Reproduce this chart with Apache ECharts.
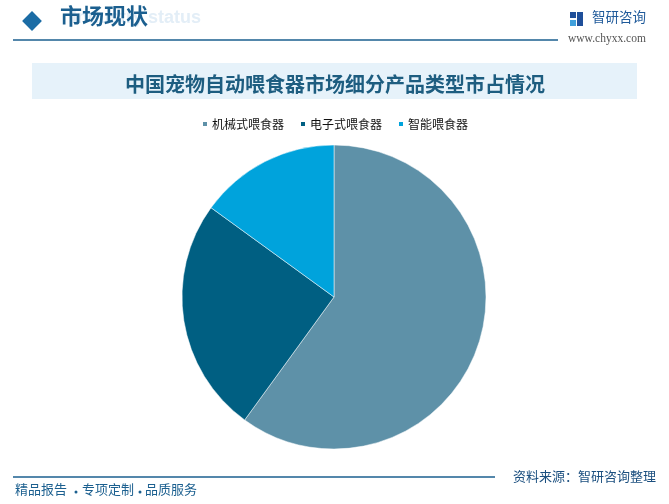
<!DOCTYPE html>
<html><head><meta charset="utf-8">
<script src="https://cdn.jsdelivr.net/npm/echarts@6/dist/echarts.min.js"></script>
<style>html,body{margin:0;padding:0;background:#fff}#c{width:669px;height:504px}</style>
</head><body><div id="c"></div>
<script>
const categories = ['机械式喂食器', '电子式喂食器', '智能喂食器'];
const shares = [60, 25, 15];
const colors = ['#5e91a8', '#005f82', '#00a3dc'];
const titleText = '中国宠物自动喂食器市场细分产品类型市占情况';
const footerParts = ['精品报告', '专项定制', '品质服务'];

const chart = echarts.init(document.getElementById('c'));
const font = '"Noto Sans CJK SC", sans-serif';
const footerX = [15, 82, 145];
const dotX = [76, 140];
const footerGraphics = [];
footerParts.forEach((t, i) => footerGraphics.push({ type: 'text', left: footerX[i], top: 483, style: { text: t, fontSize: 13, fill: '#1b5f8f', fontFamily: font } }));
dotX.forEach(x => footerGraphics.push({ type: 'circle', shape: { cx: x, cy: 492, r: 1.5 }, style: { fill: '#1b5f8f' } }));

chart.setOption({
  animation: false,
  color: colors,
  legend: {
    data: categories, top: 113, left: 'center', itemWidth: 6, itemHeight: 6, itemGap: 15,
    icon: 'rect', textStyle: { fontFamily: font, fontSize: 12, color: '#111', padding: [0, 0, 0, -1] }
  },
  graphic: [
    { type: 'text', left: 72, top: 9, style: { text: 'Industry status', fontSize: 18, fontWeight: 'bold', fill: '#e3eef7', fontFamily: 'Liberation Sans' } },
    { type: 'rect', shape: { x: -7, y: -7, width: 14, height: 14 }, x: 32, y: 21, rotation: Math.PI / 4, style: { fill: '#1b6ca5' } },
    { type: 'text', left: 60, top: 5, style: { text: '市场现状', fontSize: 22, fontWeight: 'bold', fill: '#1b5f8f', fontFamily: font } },
    { type: 'line', shape: { x1: 13, y1: 40, x2: 558, y2: 40 }, style: { stroke: '#1b5f8f', lineWidth: 1.5 } },
    { type: 'rect', shape: { x: 570, y: 12, width: 6, height: 6 }, style: { fill: '#1f4f9a' } },
    { type: 'rect', shape: { x: 570, y: 20, width: 6, height: 6 }, style: { fill: '#3fa0dc' } },
    { type: 'rect', shape: { x: 577, y: 12, width: 6, height: 14 }, style: { fill: '#1f4f9a' } },
    { type: 'text', left: 592, top: 10, style: { text: '智研咨询', fontSize: 13.5, fill: '#1f5a9a', fontFamily: font } },
    { type: 'text', left: 568, top: 33, style: { text: 'www.chyxx.com', fontSize: 11.5, fill: '#555', fontFamily: 'Liberation Serif' } },
    { type: 'rect', shape: { x: 32, y: 63, width: 605, height: 36 }, style: { fill: '#e6f2fa' } },
    { type: 'text', x: 335, y: 84, style: { text: titleText, fontSize: 20, fontWeight: 'bold', fill: '#1d5d80', fontFamily: font, align: 'center', verticalAlign: 'middle' } },
    { type: 'line', shape: { x1: 13, y1: 477, x2: 495, y2: 477 }, style: { stroke: '#1b5f8f', lineWidth: 1.5 } },
    { type: 'text', left: 513, top: 470, style: { text: '资料来源：智研咨询整理', fontSize: 13, fill: '#1b4f7f', fontFamily: font } }
  ].concat(footerGraphics),
  series: [{
    type: 'pie', center: [334, 297], radius: 152, startAngle: 90, clockwise: true,
    label: { show: false }, labelLine: { show: false },
    itemStyle: { borderColor: '#fff', borderWidth: 0.5 },
    data: categories.map((n, i) => ({ name: n, value: shares[i] }))
  }]
});
</script></body></html>
